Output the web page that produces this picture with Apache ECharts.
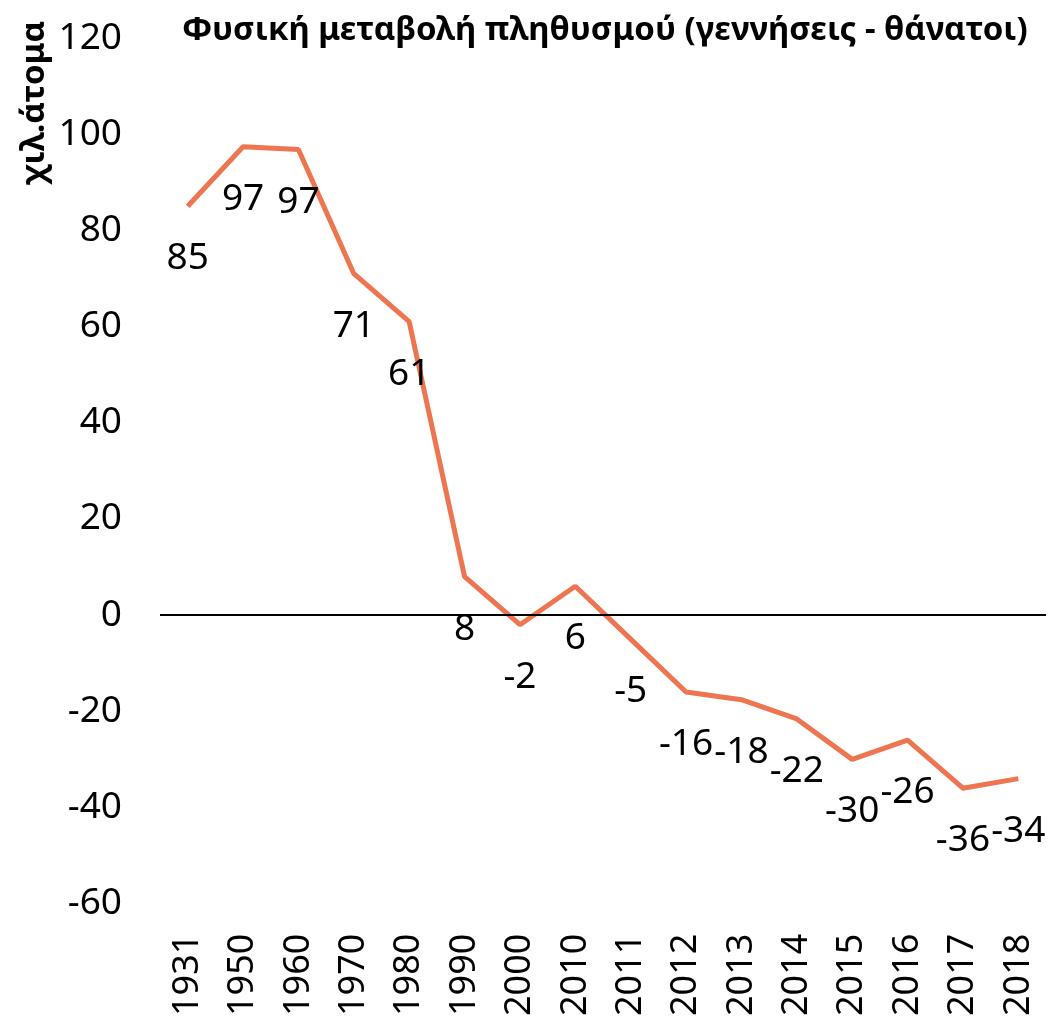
<!DOCTYPE html>
<html>
<head>
<meta charset="utf-8">
<script src="https://cdn.jsdelivr.net/npm/echarts@6/dist/echarts.min.js"></script>
<style>
  html, body { margin: 0; padding: 0; background: #fff; }
  #chart { width: 1048px; height: 1019px; }
</style>
</head>
<body>
<div id="chart"></div>
<script>
const years = ['1931', '1950', '1960', '1970', '1980', '1990', '2000', '2010', '2011', '2012', '2013', '2014', '2015', '2016', '2017', '2018']
// χιλ. άτομα (γεννήσεις - θάνατοι)
const naturalChange = [85, 97.4, 96.8, 71, 61, 8, -2, 6, -5, -16, -17.6, -21.6, -30, -26, -36, -34]
const yTicks = { min: -60, max: 120, interval: 20 }

const font = '"Noto Sans", "Open Sans", sans-serif'
const chart = echarts.init(document.getElementById('chart'), null, { renderer: 'canvas' })

chart.setOption({
  animation: false,
  title: {
    text: 'Φυσική μεταβολή πληθυσμού (γεννήσεις - θάνατοι)',
    left: 600,
    top: 9,
    textAlign: 'center',
    textStyle: { fontFamily: font, fontSize: 33, fontWeight: 'bold', color: '#000' }
  },
  graphic: [
    {
      type: 'text',
      x: 35,
      y: 103,
      rotation: Math.PI / 2,
      style: {
        text: 'χιλ.άτομα',
        fontFamily: font,
        fontSize: 33,
        fontWeight: 'bold',
        fill: '#000',
        align: 'center',
        verticalAlign: 'middle'
      }
    }
  ],
  grid: { left: 160, right: 2, top: 38, bottom: 112 },
  xAxis: {
    type: 'category',
    data: years,
    boundaryGap: true,
    axisLine: { show: false },
    axisTick: { show: false },
    axisLabel: {
      rotate: 90,
      margin: 30,
      fontFamily: font,
      fontSize: 36,
      color: '#000'
    }
  },
  yAxis: {
    type: 'value',
    min: yTicks.min,
    max: yTicks.max,
    interval: yTicks.interval,
    axisLine: { show: false },
    axisTick: { show: false },
    splitLine: { show: false },
    axisLabel: {
      margin: 38,
      fontFamily: font,
      fontSize: 37,
      color: '#000'
    }
  },
  series: [
    {
      type: 'line',
      data: naturalChange,
      symbol: 'circle',
      symbolSize: 0.1,
      lineStyle: { color: '#ED7550', width: 5 },
      itemStyle: { color: '#ED7550' },
      label: {
        show: true,
        position: 'bottom',
        distance: 34,
        fontFamily: font,
        fontSize: 37,
        color: '#000',
        formatter: (p) => Math.round(p.value)
      },
      labelLayout: { hideOverlap: false },
      markLine: {
        silent: true,
        symbol: 'none',
        label: { show: false },
        lineStyle: { color: '#000', width: 2, type: 'solid' },
        data: [{ yAxis: 0 }]
      }
    }
  ]
})
</script>
</body>
</html>
